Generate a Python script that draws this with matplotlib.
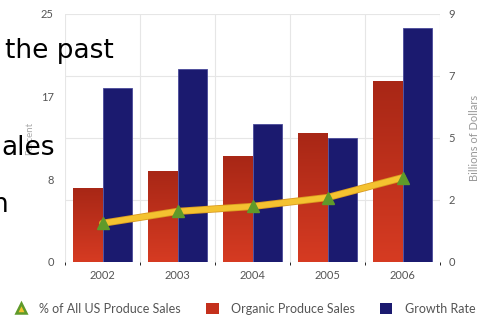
import numpy as np
import matplotlib
matplotlib.use('Agg')
import matplotlib.pyplot as plt
import matplotlib.patheffects as pe
from matplotlib.lines import Line2D
from matplotlib.patches import Patch
from matplotlib.colors import LinearSegmentedColormap

years = ['2002', '2003', '2004', '2005', '2006']
organic_sales = [2.68, 3.30, 3.84, 4.67, 6.56]      # billions of dollars (right axis)
growth_rate = [17.5, 19.5, 13.9, 12.5, 23.6]        # percent (left axis)
pct_of_sales = [3.9, 5.1, 5.6, 6.5, 8.5]            # percent (left axis)
left_ticks = [0, 25 / 3, 50 / 3, 25]
left_labels = ['0', '8', '17', '25']
right_ticks = [0, 2.25, 4.5, 6.75, 9]
right_labels = ['0', '2', '5', '7', '9']

plt.rcParams['font.family'] = ['Lato', 'DejaVu Sans']
txt = '#555555'

fig = plt.figure(figsize=(4.9, 3.22), dpi=100)
ax2 = fig.add_axes([65 / 490, 60 / 322, 375 / 490, 248 / 322])
ax = ax2.twinx()
ax.set_zorder(ax2.get_zorder() + 1)
ax.patch.set_visible(False)

x = np.arange(len(years))
w = 0.39

# red bars with a vertical gradient
red_cmap = LinearSegmentedColormap.from_list('r', ['#d63b22', '#a82716'])
bars = ax2.bar(x - w / 2, organic_sales, w, color='none', edgecolor='none', zorder=2)
grad = np.linspace(0, 1, 100).reshape(-1, 1)
for b in bars:
    bx, by = b.get_x(), b.get_y()
    im = ax2.imshow(grad, cmap=red_cmap, aspect='auto', origin='lower',
                    extent=[bx, bx + b.get_width(), by, by + b.get_height()], zorder=2)
    im.set_clip_path(b)

ax.bar(x + w / 2, growth_rate, w, color='#1b1a6f', edgecolor='#4a4a9a', linewidth=0.6, zorder=2)

ax.plot(x, pct_of_sales, color='#f4c230', lw=4, zorder=3, solid_capstyle='round',
        path_effects=[pe.Stroke(linewidth=5.2, foreground='#d99a20'), pe.Normal()])
ax.plot(x, pct_of_sales, ls='none', marker='^', ms=9, color='#5f9a2a', zorder=4)

ax2.set_xlim(-0.5, 4.5)
ax2.set_ylim(0, 9)
ax.set_ylim(0, 25)
ax2.set_xticks(x)
ax2.set_xticklabels(years)
ax2.set_xticks(np.arange(-0.5, 5, 1), minor=True)
ax2.grid(True, which='minor', axis='x', color='#e6e6e6', lw=0.8)
ax2.grid(True, which='major', axis='y', color='#e6e6e6', lw=0.8)
ax2.set_axisbelow(True)

# percent scale on the left, dollars on the right
ax.yaxis.tick_left()
ax.yaxis.set_label_position('left')
ax2.yaxis.tick_right()
ax2.yaxis.set_label_position('right')
ax.set_yticks(left_ticks)
ax.set_yticklabels(left_labels)
ax2.set_yticks(right_ticks)
ax2.set_yticklabels(right_labels)

for a in (ax, ax2):
    for s in a.spines.values():
        s.set_visible(False)
    a.tick_params(length=0, labelsize=8, colors=txt)
ax.tick_params(axis='y', pad=8)
ax2.tick_params(axis='y', pad=6)
ax2.tick_params(axis='x', pad=6)

ax.set_ylabel('Percent', fontsize=7, color='#aaaaaa', labelpad=5)
ax2.set_ylabel('Billions of Dollars', fontsize=8, color='#999999', labelpad=10)

handles = [
    Line2D([], [], ls='none', marker='^', ms=7, markerfacecolor='#f4c230',
           markeredgecolor='#5f9a2a', markeredgewidth=1.8),
    Patch(facecolor='#c4301c'),
    Patch(facecolor='#1b1a6f'),
]
fig.legend(handles, ['% of All US Produce Sales', 'Organic Produce Sales', 'Growth Rate'],
           loc='center', bbox_to_anchor=(0.5, 13 / 322), ncol=3, frameon=False,
           fontsize=9, labelcolor=txt, handlelength=1.0, handleheight=1.0,
           columnspacing=2.0, handletextpad=1.0)

# slide text cut off at the left edge
fig.text(5 / 490, 1 - 58 / 322, 'the past', fontsize=19, family='DejaVu Sans', color='black')
fig.text(1 / 490, 1 - 155 / 322, 'ales', fontsize=19, family='DejaVu Sans', color='black')
fig.text(-8 / 490, 1 - 212 / 322, 'n', fontsize=19, family='DejaVu Sans', color='black')

fig.savefig('out.png', dpi=100)
